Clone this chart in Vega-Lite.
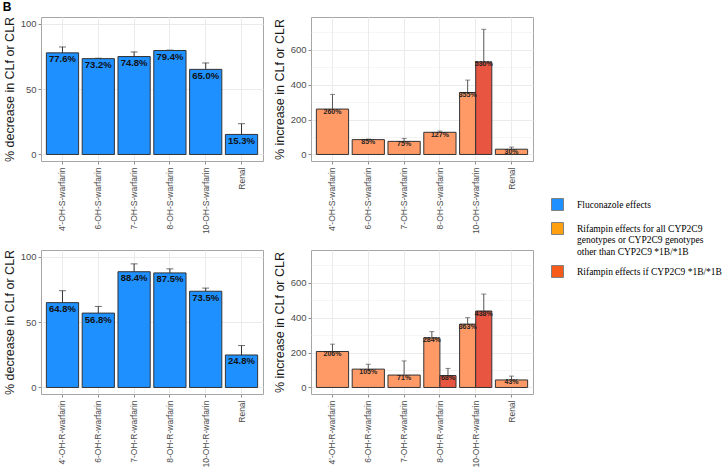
{
  "$schema": "https://vega.github.io/schema/vega-lite/v6.json",
  "padding": {"left": 2, "top": 0, "right": 5, "bottom": 0},
  "title": {"text": "B", "anchor": "start", "fontSize": 12, "fontWeight": "bold", "font": "Liberation Sans", "color": "#000000", "offset": 2, "frame": "bounds"},
  "datasets": {
    "flucS": [
      {"metabolite": "4'-OH-S-warfarin", "value": 77.6, "upper": 82.1, "label": "77.6%"},
      {"metabolite": "6-OH-S-warfarin", "value": 73.2, "upper": 73.5, "label": "73.2%"},
      {"metabolite": "7-OH-S-warfarin", "value": 74.8, "upper": 78.3, "label": "74.8%"},
      {"metabolite": "8-OH-S-warfarin", "value": 79.4, "upper": 79.7, "label": "79.4%"},
      {"metabolite": "10-OH-S-warfarin", "value": 65.0, "upper": 69.9, "label": "65.0%"},
      {"metabolite": "Renal", "value": 15.3, "upper": 23.5, "label": "15.3%"}
    ],
    "flucR": [
      {"metabolite": "4'-OH-R-warfarin", "value": 64.8, "upper": 73.9, "label": "64.8%"},
      {"metabolite": "6-OH-R-warfarin", "value": 56.8, "upper": 61.9, "label": "56.8%"},
      {"metabolite": "7-OH-R-warfarin", "value": 88.4, "upper": 94.4, "label": "88.4%"},
      {"metabolite": "8-OH-R-warfarin", "value": 87.5, "upper": 90.6, "label": "87.5%"},
      {"metabolite": "10-OH-R-warfarin", "value": 73.5, "upper": 75.9, "label": "73.5%"},
      {"metabolite": "Renal", "value": 24.8, "upper": 32.0, "label": "24.8%"}
    ],
    "rifS": [
      {"metabolite": "4'-OH-S-warfarin", "group": "all", "paired": false, "value": 260, "upper": 344, "label": "260%"},
      {"metabolite": "6-OH-S-warfarin", "group": "all", "paired": false, "value": 85, "upper": 88, "label": "85%"},
      {"metabolite": "7-OH-S-warfarin", "group": "all", "paired": false, "value": 75, "upper": 92, "label": "75%"},
      {"metabolite": "8-OH-S-warfarin", "group": "all", "paired": false, "value": 127, "upper": 134, "label": "127%"},
      {"metabolite": "10-OH-S-warfarin", "group": "all", "paired": true, "value": 355, "upper": 426, "label": "355%"},
      {"metabolite": "10-OH-S-warfarin", "group": "1B", "paired": true, "value": 530, "upper": 717, "label": "530%"},
      {"metabolite": "Renal", "group": "all", "paired": false, "value": 30, "upper": 42, "label": "30%"}
    ],
    "rifR": [
      {"metabolite": "4'-OH-R-warfarin", "group": "all", "paired": false, "value": 206, "upper": 248, "label": "206%"},
      {"metabolite": "6-OH-R-warfarin", "group": "all", "paired": false, "value": 105, "upper": 133, "label": "105%"},
      {"metabolite": "7-OH-R-warfarin", "group": "all", "paired": false, "value": 71, "upper": 152, "label": "71%"},
      {"metabolite": "8-OH-R-warfarin", "group": "all", "paired": true, "value": 284, "upper": 320, "label": "284%"},
      {"metabolite": "8-OH-R-warfarin", "group": "1B", "paired": true, "value": 68, "upper": 109, "label": "68%"},
      {"metabolite": "10-OH-R-warfarin", "group": "all", "paired": true, "value": 363, "upper": 400, "label": "363%"},
      {"metabolite": "10-OH-R-warfarin", "group": "1B", "paired": true, "value": 438, "upper": 535, "label": "438%"},
      {"metabolite": "Renal", "group": "all", "paired": false, "value": 43, "upper": 65, "label": "43%"}
    ],
    "legendItems": [
      {"key": "fluc"},
      {"key": "rifall"},
      {"key": "rif1b"}
    ]
  },
  "vconcat": [
    {
      "hconcat": [
        {
          "width": 222, "height": 144,
          "data": {"name": "flucS"},
          "encoding": {
            "x": {"field": "metabolite", "type": "nominal",
              "scale": {"domain": ["4'-OH-S-warfarin", "6-OH-S-warfarin", "7-OH-S-warfarin", "8-OH-S-warfarin", "10-OH-S-warfarin", "Renal"], "paddingInner": 0.1, "paddingOuter": 0.15},
              "axis": {"title": null, "labelAngle": -90, "grid": true, "bandPosition": 0.5, "tickSize": 3, "labelFontSize": 8.5, "labelPadding": 3}}
          },
          "layer": [
            {"mark": {"type": "bar", "fill": "#1E90FF", "stroke": "#333333", "strokeWidth": 1},
             "encoding": {
               "y": {"field": "value", "type": "quantitative",
                 "scale": {"domain": [-5, 105], "nice": false, "zero": false},
                 "axis": {"title": "% decrease in CLf or CLR", "values": [0, 12.5, 25, 37.5, 50, 62.5, 75, 87.5, 100],
                   "labelExpr": "datum.value % 25 === 0 ? format(datum.value, 'd') : ''",
                   "tickOpacity": {"condition": {"test": "datum.value % 25 === 0", "value": 1}, "value": 0},
                   "gridWidth": {"condition": {"test": "datum.value % 25 === 0", "value": 1}, "value": 0.5},
                   "grid": true, "tickSize": 3, "labelPadding": 2, "titlePadding": 4}},
               "y2": {"datum": 0}}},
            {"mark": {"type": "rule", "color": "#333333", "strokeWidth": 1},
             "encoding": {"y": {"field": "value", "type": "quantitative"}, "y2": {"field": "upper"}}},
            {"mark": {"type": "tick", "orient": "horizontal", "color": "#333333", "size": 7, "thickness": 1},
             "encoding": {"y": {"field": "upper", "type": "quantitative"}}},
            {"mark": {"type": "text", "fontSize": 9.5, "fontWeight": "bold", "font": "Liberation Sans", "baseline": "top", "dy": 1.5, "color": "#111111"},
             "encoding": {"y": {"field": "value", "type": "quantitative"}, "text": {"field": "label"}}}
          ]
        },
        {
          "width": 222, "height": 144,
          "layer": [
            {
              "data": {"name": "rifS"},
              "encoding": {
                "x": {"field": "metabolite", "type": "nominal",
                  "scale": {"domain": ["4'-OH-S-warfarin", "6-OH-S-warfarin", "7-OH-S-warfarin", "8-OH-S-warfarin", "10-OH-S-warfarin", "Renal"], "paddingInner": 0.1, "paddingOuter": 0.15},
                  "axis": {"title": null, "labelAngle": -90, "grid": true, "bandPosition": 0.5, "tickSize": 3, "labelFontSize": 8.5, "labelPadding": 3}},
                "y": {"field": "value", "type": "quantitative",
                  "scale": {"domain": [-37.5, 787.5], "nice": false, "zero": false},
                  "axis": {"title": "% increase in CLf or CLR", "values": [0, 100, 200, 300, 400, 500, 600, 700],
                    "labelExpr": "datum.value % 200 === 0 ? format(datum.value, 'd') : ''",
                    "tickOpacity": {"condition": {"test": "datum.value % 200 === 0", "value": 1}, "value": 0},
                    "gridWidth": {"condition": {"test": "datum.value % 200 === 0", "value": 1}, "value": 0.5},
                    "grid": true, "tickSize": 3, "labelPadding": 2, "titlePadding": 4}}
              },
              "layer": [
                {
                  "transform": [{"filter": "!datum.paired"}],
                  "layer": [
                    {"mark": {"type": "bar", "fill": "#FF9966", "stroke": "#333333", "strokeWidth": 1}, "encoding": {"y2": {"datum": 0}}},
                    {"mark": {"type": "rule", "color": "#555555", "strokeWidth": 1}, "encoding": {"y2": {"field": "upper"}}},
                    {"mark": {"type": "tick", "orient": "horizontal", "color": "#555555", "size": 5, "thickness": 1}, "encoding": {"y": {"field": "upper", "type": "quantitative"}}},
                    {"mark": {"type": "text", "fontSize": 7, "fontWeight": "bold", "font": "Liberation Sans", "baseline": "middle", "dy": 2.5, "color": "#222222"}, "encoding": {"text": {"field": "label"}}}
                  ]
                },
                {
                  "transform": [{"filter": "datum.paired"}],
                  "encoding": {"xOffset": {"field": "group", "type": "nominal", "scale": {"domain": ["all", "1B"]}}},
                  "layer": [
                    {"mark": {"type": "bar", "stroke": "#333333", "strokeWidth": 1},
                     "encoding": {"y2": {"datum": 0}, "fill": {"condition": {"test": "datum.group === '1B'", "value": "#E85540"}, "value": "#FF9966"}}},
                    {"mark": {"type": "rule", "color": "#555555", "strokeWidth": 1}, "encoding": {"y2": {"field": "upper"}}},
                    {"mark": {"type": "tick", "orient": "horizontal", "color": "#555555", "size": 5, "thickness": 1}, "encoding": {"y": {"field": "upper", "type": "quantitative"}}},
                    {"mark": {"type": "text", "fontSize": 7, "fontWeight": "bold", "font": "Liberation Sans", "baseline": "middle", "dy": 2.5, "color": "#222222"}, "encoding": {"text": {"field": "label"}}}
                  ]
                }
              ]
            },
            {
              "data": {"name": "legendItems"},
              "mark": {"type": "square", "opacity": 0, "stroke": "#808080", "strokeWidth": 1},
              "encoding": {
                "color": {"field": "key", "type": "nominal",
                  "scale": {"domain": ["fluc", "rifall", "rif1b"], "range": ["#1E90FF", "#FFA010", "#F85A1A"]},
                  "legend": {"title": null, "orient": "none", "legendX": 510, "legendY": 181,
                    "symbolType": "square", "symbolSize": 144, "symbolOpacity": 1, "symbolStrokeColor": "#808080", "symbolStrokeWidth": 1,
                    "labelFont": "Liberation Serif", "labelFontSize": 9.5, "labelColor": "#000000", "labelLimit": 0, "labelOffset": 13, "rowPadding": 7,
                    "labelExpr": "datum.value === 'fluc' ? 'Fluconazole effects' : datum.value === 'rifall' ? ['Rifampin effects for all CYP2C9', 'genotypes or CYP2C9 genotypes', 'other than CYP2C9 *1B/*1B'] : 'Rifampin effects if CYP2C9 *1B/*1B'"}}
              }
            }
          ]
        }
      ],
      "spacing": 8
    },
    {
      "hconcat": [
        {
          "width": 222, "height": 144,
          "data": {"name": "flucR"},
          "encoding": {
            "x": {"field": "metabolite", "type": "nominal",
              "scale": {"domain": ["4'-OH-R-warfarin", "6-OH-R-warfarin", "7-OH-R-warfarin", "8-OH-R-warfarin", "10-OH-R-warfarin", "Renal"], "paddingInner": 0.1, "paddingOuter": 0.15},
              "axis": {"title": null, "labelAngle": -90, "grid": true, "bandPosition": 0.5, "tickSize": 3, "labelFontSize": 8.5, "labelPadding": 3}}
          },
          "layer": [
            {"mark": {"type": "bar", "fill": "#1E90FF", "stroke": "#333333", "strokeWidth": 1},
             "encoding": {
               "y": {"field": "value", "type": "quantitative",
                 "scale": {"domain": [-5, 105], "nice": false, "zero": false},
                 "axis": {"title": "% decrease in CLf or CLR", "values": [0, 12.5, 25, 37.5, 50, 62.5, 75, 87.5, 100],
                   "labelExpr": "datum.value % 25 === 0 ? format(datum.value, 'd') : ''",
                   "tickOpacity": {"condition": {"test": "datum.value % 25 === 0", "value": 1}, "value": 0},
                   "gridWidth": {"condition": {"test": "datum.value % 25 === 0", "value": 1}, "value": 0.5},
                   "grid": true, "tickSize": 3, "labelPadding": 2, "titlePadding": 4}},
               "y2": {"datum": 0}}},
            {"mark": {"type": "rule", "color": "#333333", "strokeWidth": 1},
             "encoding": {"y": {"field": "value", "type": "quantitative"}, "y2": {"field": "upper"}}},
            {"mark": {"type": "tick", "orient": "horizontal", "color": "#333333", "size": 7, "thickness": 1},
             "encoding": {"y": {"field": "upper", "type": "quantitative"}}},
            {"mark": {"type": "text", "fontSize": 9.5, "fontWeight": "bold", "font": "Liberation Sans", "baseline": "top", "dy": 1.5, "color": "#111111"},
             "encoding": {"y": {"field": "value", "type": "quantitative"}, "text": {"field": "label"}}}
          ]
        },
        {
          "width": 222, "height": 144,
          "data": {"name": "rifR"},
          "encoding": {
            "x": {"field": "metabolite", "type": "nominal",
              "scale": {"domain": ["4'-OH-R-warfarin", "6-OH-R-warfarin", "7-OH-R-warfarin", "8-OH-R-warfarin", "10-OH-R-warfarin", "Renal"], "paddingInner": 0.1, "paddingOuter": 0.15},
              "axis": {"title": null, "labelAngle": -90, "grid": true, "bandPosition": 0.5, "tickSize": 3, "labelFontSize": 8.5, "labelPadding": 3}},
            "y": {"field": "value", "type": "quantitative",
              "scale": {"domain": [-37.5, 787.5], "nice": false, "zero": false},
              "axis": {"title": "% increase in CLf or CLR", "values": [0, 100, 200, 300, 400, 500, 600, 700],
                "labelExpr": "datum.value % 200 === 0 ? format(datum.value, 'd') : ''",
                "tickOpacity": {"condition": {"test": "datum.value % 200 === 0", "value": 1}, "value": 0},
                "gridWidth": {"condition": {"test": "datum.value % 200 === 0", "value": 1}, "value": 0.5},
                "grid": true, "tickSize": 3, "labelPadding": 2, "titlePadding": 4}}
          },
          "layer": [
            {
              "transform": [{"filter": "!datum.paired"}],
              "layer": [
                {"mark": {"type": "bar", "fill": "#FF9966", "stroke": "#333333", "strokeWidth": 1}, "encoding": {"y2": {"datum": 0}}},
                {"mark": {"type": "rule", "color": "#555555", "strokeWidth": 1}, "encoding": {"y2": {"field": "upper"}}},
                {"mark": {"type": "tick", "orient": "horizontal", "color": "#555555", "size": 5, "thickness": 1}, "encoding": {"y": {"field": "upper", "type": "quantitative"}}},
                {"mark": {"type": "text", "fontSize": 7, "fontWeight": "bold", "font": "Liberation Sans", "baseline": "middle", "dy": 2.5, "color": "#222222"}, "encoding": {"text": {"field": "label"}}}
              ]
            },
            {
              "transform": [{"filter": "datum.paired"}],
              "encoding": {"xOffset": {"field": "group", "type": "nominal", "scale": {"domain": ["all", "1B"]}}},
              "layer": [
                {"mark": {"type": "bar", "stroke": "#333333", "strokeWidth": 1},
                 "encoding": {"y2": {"datum": 0}, "fill": {"condition": {"test": "datum.group === '1B'", "value": "#E85540"}, "value": "#FF9966"}}},
                {"mark": {"type": "rule", "color": "#555555", "strokeWidth": 1}, "encoding": {"y2": {"field": "upper"}}},
                {"mark": {"type": "tick", "orient": "horizontal", "color": "#555555", "size": 5, "thickness": 1}, "encoding": {"y": {"field": "upper", "type": "quantitative"}}},
                {"mark": {"type": "text", "fontSize": 7, "fontWeight": "bold", "font": "Liberation Sans", "baseline": "middle", "dy": 2.5, "color": "#222222"}, "encoding": {"text": {"field": "label"}}}
              ]
            }
          ]
        }
      ],
      "spacing": 8
    }
  ],
  "spacing": 13,
  "config": {
    "view": {"stroke": "#A6A6A6", "strokeWidth": 1},
    "font": "Liberation Sans",
    "axis": {"labelFont": "Liberation Sans", "titleFont": "Liberation Sans", "labelColor": "#4D4D4D", "titleColor": "#1A1A1A", "tickColor": "#8C8C8C", "domain": false, "gridColor": "#EBEBEB", "labelFontSize": 9.5, "titleFontSize": 12.5, "titleFontWeight": "normal"}
  }
}
